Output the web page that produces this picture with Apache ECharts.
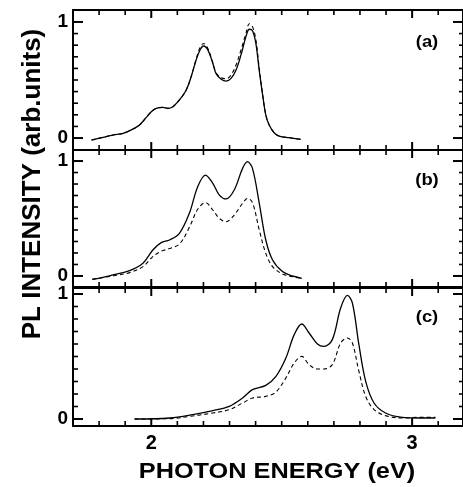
<!DOCTYPE html>
<html>
<head>
<meta charset="utf-8">
<script src="https://cdn.jsdelivr.net/npm/echarts@6/dist/echarts.min.js"></script>
<style>
html, body { margin: 0; padding: 0; background: #fff; }
#main { width: 463px; height: 487px; }
</style>
</head>
<body>
<div id="main"></div>
<script>
// panel (a)
var energyA = [1.771, 1.815, 1.853, 1.892, 1.930, 1.955, 1.981, 2.000, 2.019, 2.044, 2.064, 2.083, 2.108, 2.134, 2.153, 2.172, 2.187, 2.200, 2.216, 2.236, 2.248, 2.267, 2.287, 2.306, 2.325, 2.344, 2.363, 2.376, 2.388, 2.401, 2.414, 2.427, 2.439, 2.452, 2.471, 2.490, 2.529, 2.573];
var solidA  = [-0.017, 0.006, 0.026, 0.040, 0.078, 0.112, 0.178, 0.227, 0.256, 0.264, 0.256, 0.270, 0.328, 0.414, 0.529, 0.672, 0.759, 0.793, 0.764, 0.644, 0.557, 0.509, 0.491, 0.514, 0.586, 0.716, 0.874, 0.937, 0.925, 0.816, 0.580, 0.370, 0.200, 0.112, 0.046, 0.017, 0.003, -0.011];
var dashedA = [-0.017, 0.006, 0.026, 0.040, 0.078, 0.112, 0.178, 0.227, 0.256, 0.264, 0.256, 0.270, 0.328, 0.414, 0.529, 0.680, 0.780, 0.815, 0.775, 0.650, 0.565, 0.520, 0.510, 0.543, 0.629, 0.759, 0.902, 0.985, 0.960, 0.845, 0.600, 0.375, 0.200, 0.112, 0.046, 0.017, 0.003, -0.011];

// panel (b)
var energyB = [1.774, 1.815, 1.853, 1.917, 1.968, 2.006, 2.038, 2.070, 2.108, 2.146, 2.178, 2.208, 2.236, 2.261, 2.287, 2.318, 2.350, 2.369, 2.388, 2.414, 2.439, 2.465, 2.503, 2.541, 2.577];
var solidB  = [-0.029, -0.012, 0.009, 0.046, 0.110, 0.226, 0.290, 0.313, 0.371, 0.545, 0.777, 0.878, 0.806, 0.704, 0.670, 0.748, 0.936, 0.994, 0.936, 0.632, 0.313, 0.139, 0.038, 0.000, -0.020];
var dashedB = [-0.029, -0.014, 0.000, 0.029, 0.081, 0.168, 0.215, 0.238, 0.278, 0.423, 0.580, 0.638, 0.574, 0.501, 0.472, 0.530, 0.632, 0.675, 0.638, 0.400, 0.197, 0.081, 0.017, -0.006, -0.020];

// panel (c)
var energyC = [1.936, 2.070, 2.159, 2.236, 2.299, 2.350, 2.388, 2.439, 2.478, 2.516, 2.548, 2.577, 2.605, 2.637, 2.662, 2.694, 2.726, 2.752, 2.771, 2.796, 2.822, 2.854, 2.898, 2.962, 3.026, 3.089];
var solidC  = [0.000, 0.008, 0.035, 0.067, 0.101, 0.168, 0.235, 0.269, 0.341, 0.488, 0.675, 0.760, 0.688, 0.600, 0.581, 0.635, 0.888, 0.989, 0.928, 0.595, 0.301, 0.128, 0.048, 0.013, 0.008, 0.008];
var dashedC = [0.000, 0.003, 0.024, 0.048, 0.075, 0.128, 0.168, 0.181, 0.216, 0.328, 0.448, 0.501, 0.435, 0.400, 0.400, 0.435, 0.608, 0.648, 0.608, 0.381, 0.181, 0.075, 0.027, 0.008, 0.013, 0.013];

// ticks
var xMinorTicks = [1.8, 1.9, 2.1, 2.2, 2.3, 2.4, 2.5, 2.6, 2.7, 2.8, 2.9, 3.1];
var xMajorTicks = [2, 3];
var yMinorTicks = [0.1, 0.2, 0.3, 0.4, 0.5, 0.6, 0.7, 0.8, 0.9];
var yMajorTicks = [0, 1];
var panelLabels = ['(a)', '(b)', '(c)'];

var xMin = 1.7, xMax = 3.195;
var font = '"Liberation Sans", Arial, Helvetica, sans-serif';

var panels = [
    { energy: energyA, solid: solidA, dashed: dashedA, top: 10, height: 140, ymin: -0.103, ymax: 1.103, labelY: 43 },
    { energy: energyB, solid: solidB, dashed: dashedB, top: 150, height: 137, ymin: -0.096, ymax: 1.096, labelY: 181 },
    { energy: energyC, solid: solidC, dashed: dashedC, top: 288, height: 138, ymin: -0.056, ymax: 1.048, labelY: 318 }
];

function pairs(xs, ys) {
    return xs.map(function (x, k) { return [x, ys[k]]; });
}

// tick list: [value, side (0 bottom, 1 top, 2 left, 3 right), length]
function tickData() {
    var d = [];
    [0, 1].forEach(function (side) {
        xMinorTicks.forEach(function (v) { d.push([v, side, 5]); });
        xMajorTicks.forEach(function (v) { d.push([v, side, 8]); });
    });
    yMinorTicks.forEach(function (v) { d.push([v, 2, 5]); d.push([v, 3, 4]); });
    yMajorTicks.forEach(function (v) { d.push([v, 2, 10]); d.push([v, 3, 10]); });
    return d;
}

function tickRenderer(p) {
    return function (params, api) {
        var v = api.value(0), side = api.value(1), len = api.value(2);
        var lo = api.coord([xMin, p.ymin]);
        var hi = api.coord([xMax, p.ymax]);
        var s;
        if (side === 0) {
            var xb = api.coord([v, p.ymin])[0];
            s = { x1: xb, y1: lo[1], x2: xb, y2: lo[1] - len };
        } else if (side === 1) {
            var xt = api.coord([v, p.ymax])[0];
            s = { x1: xt, y1: hi[1], x2: xt, y2: hi[1] + len };
        } else if (side === 2) {
            var yl = api.coord([xMin, v])[1];
            s = { x1: lo[0], y1: yl, x2: lo[0] + len, y2: yl };
        } else {
            var yr = api.coord([xMax, v])[1];
            s = { x1: hi[0], y1: yr, x2: hi[0] - len, y2: yr };
        }
        return {
            type: 'line', shape: s,
            style: { stroke: '#000', lineWidth: len >= 8 ? 2 : 1.6 }
        };
    };
}

var grids = [], xAxes = [], yAxes = [], series = [], graphics = [];

panels.forEach(function (p, i) {
    grids.push({ left: 73, width: 391, top: p.top, height: p.height });

    ['bottom', 'top'].forEach(function (pos) {
        xAxes.push({
            gridIndex: i, type: 'value', position: pos, min: xMin, max: xMax,
            axisLine: { show: true, onZero: false, lineStyle: { color: '#000', width: 2 } },
            axisTick: { show: false },
            axisLabel: (pos === 'bottom' && i === 2) ? {
                show: true, customValues: xMajorTicks, color: '#000', fontSize: 20, fontWeight: 'bold',
                fontFamily: font, margin: 7
            } : { show: false },
            splitLine: { show: false }
        });
    });

    ['left', 'right'].forEach(function (pos) {
        yAxes.push({
            gridIndex: i, type: 'value', position: pos, min: p.ymin, max: p.ymax,
            axisLine: { show: true, onZero: false, lineStyle: { color: '#000', width: 2 } },
            axisTick: { show: false },
            axisLabel: pos === 'left' ? {
                show: true, customValues: yMajorTicks, color: '#000', fontSize: 19, fontWeight: 'bold',
                fontFamily: font, margin: 5
            } : { show: false },
            splitLine: { show: false }
        });
    });

    series.push({
        type: 'line', xAxisIndex: i * 2, yAxisIndex: i * 2,
        data: pairs(p.energy, p.dashed), showSymbol: false, smooth: 0.35,
        lineStyle: { color: '#000', width: 1.1, type: [4, 3] }
    });
    series.push({
        type: 'line', xAxisIndex: i * 2, yAxisIndex: i * 2,
        data: pairs(p.energy, p.solid), showSymbol: false, smooth: 0.35,
        lineStyle: { color: '#000', width: 1.3 }
    });
    series.push({
        type: 'custom', xAxisIndex: i * 2, yAxisIndex: i * 2,
        data: tickData(), renderItem: tickRenderer(p), clip: false, silent: true, z: 5
    });

    graphics.push({
        type: 'text', x: 427, y: p.labelY, scaleX: 1.15,
        style: { text: panelLabels[i], font: 'bold 16px ' + font, fill: '#000', align: 'center', verticalAlign: 'middle' }
    });
});

graphics.push({
    type: 'text', x: 277, y: 472, scaleX: 1.15,
    style: { text: 'PHOTON ENERGY (eV)', font: 'bold 22px ' + font, fill: '#000', align: 'center', verticalAlign: 'middle' }
});
graphics.push({
    type: 'text', x: 33, y: 184, rotation: Math.PI / 2,
    style: { text: 'PL INTENSITY (arb.units)', font: 'bold 26px ' + font, fill: '#000', align: 'center', verticalAlign: 'middle' }
});

var chart = echarts.init(document.getElementById('main'));
chart.setOption({
    animation: false,
    grid: grids,
    xAxis: xAxes,
    yAxis: yAxes,
    series: series,
    graphic: graphics
});
</script>
</body>
</html>
